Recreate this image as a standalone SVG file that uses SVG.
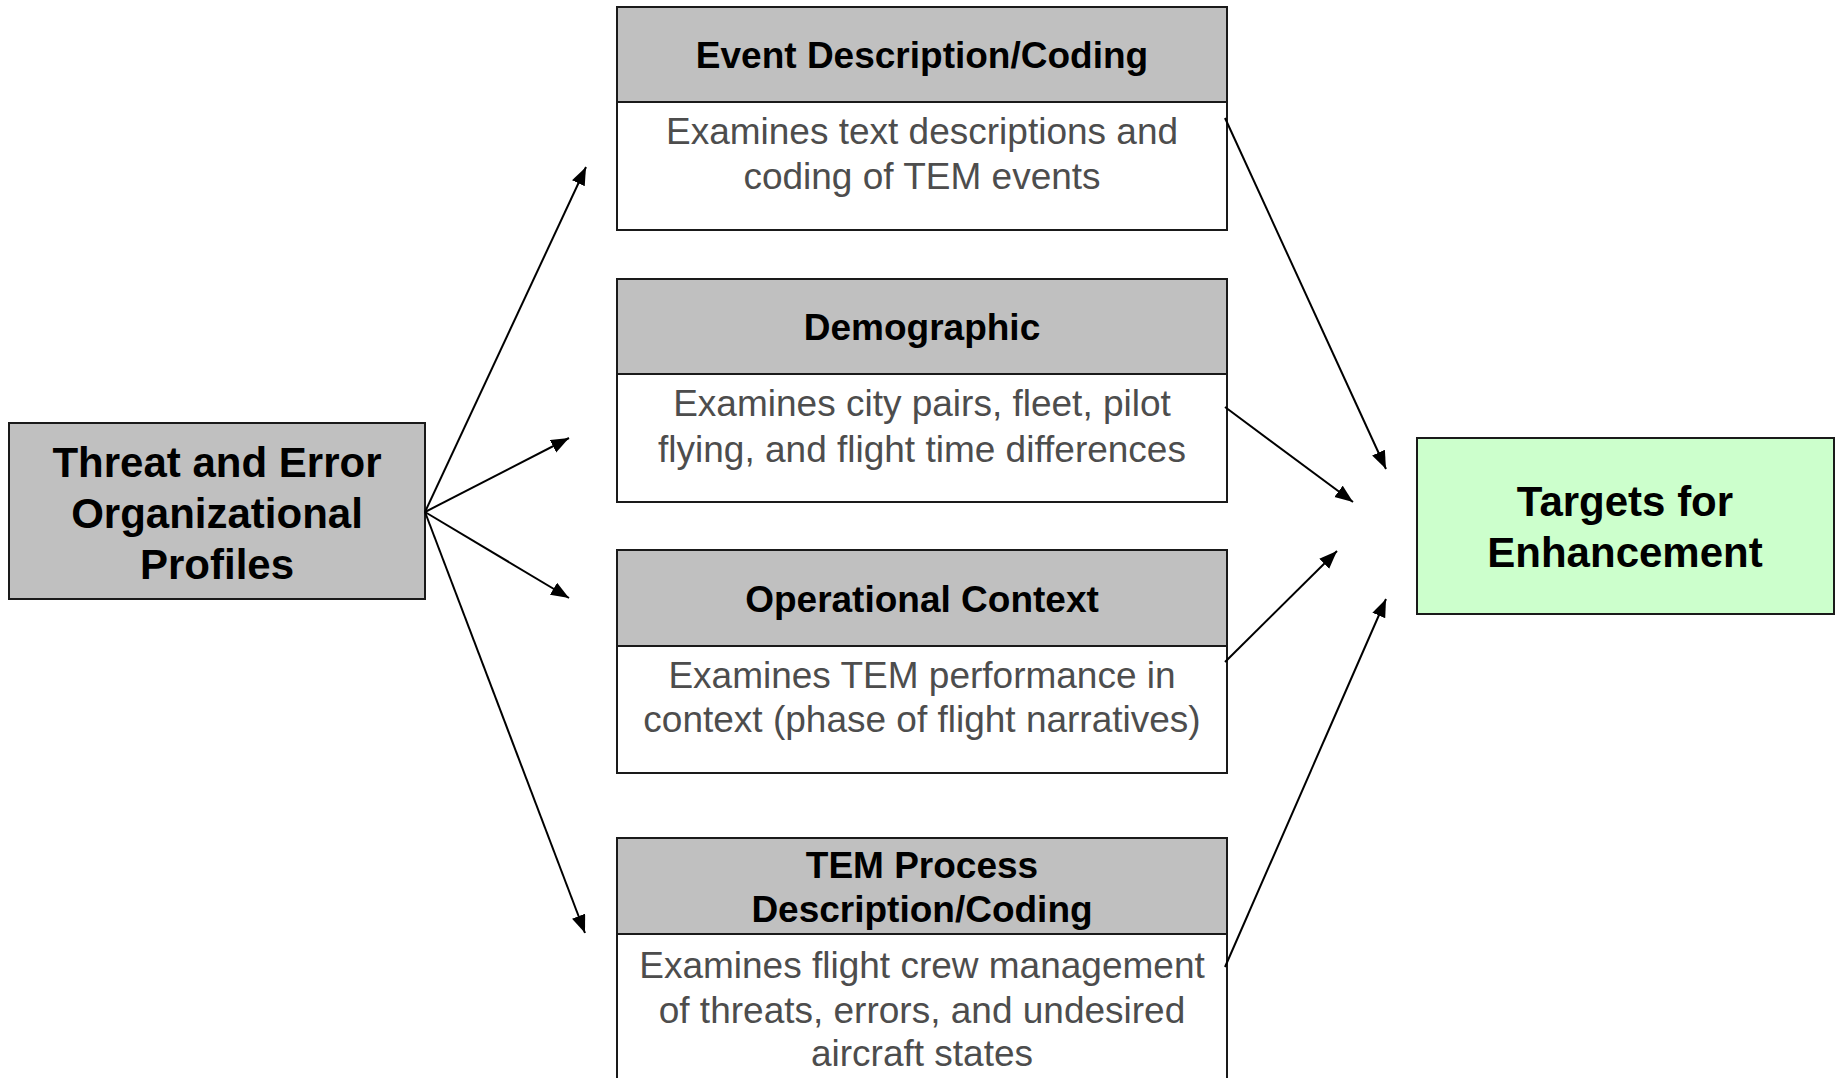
<svg xmlns="http://www.w3.org/2000/svg" width="1837" height="1078" viewBox="0 0 1837 1078">
  <defs>
    <style>
      .box { stroke: #1a1a1a; stroke-width: 2; }
      .grey { fill: #c0c0c0; }
      .white { fill: #ffffff; }
      .green { fill: #ccffcc; }
      .big { font-family: "Liberation Sans", Arial, sans-serif; font-weight: bold; font-size: 42px; fill: #000; text-anchor: middle; }
      .title { font-family: "Liberation Sans", Arial, sans-serif; font-weight: bold; font-size: 37px; fill: #000; text-anchor: middle; }
      .body { font-family: "Liberation Sans", Arial, sans-serif; font-size: 37px; fill: #4d4d4d; text-anchor: middle; }
      .link { stroke: #000; stroke-width: 2; fill: none; marker-end: url(#arrow); }
    </style>
    <marker id="arrow" markerUnits="userSpaceOnUse" markerWidth="20" markerHeight="16" refX="18" refY="7" orient="auto">
      <path d="M0,0 L18,7 L0,14 Z" fill="#000"/>
    </marker>
  </defs>

  <rect width="1837" height="1078" fill="#ffffff"/>

  <!-- source node -->
  <g id="profiles">
    <rect class="box grey" x="9" y="423" width="416" height="176"/>
    <text class="big" x="217" y="477">Threat and Error</text>
    <text class="big" x="217" y="528">Organizational</text>
    <text class="big" x="217" y="579">Profiles</text>
  </g>

  <!-- analysis nodes -->
  <g id="event-coding">
    <rect class="box white" x="617" y="7" width="610" height="223"/>
    <rect class="box grey" x="617" y="7" width="610" height="95"/>
    <text class="title" x="922" y="68">Event Description/Coding</text>
    <text class="body" x="922" y="144">Examines text descriptions and</text>
    <text class="body" x="922" y="189">coding of TEM events</text>
  </g>

  <g id="demographic">
    <rect class="box white" x="617" y="279" width="610" height="223"/>
    <rect class="box grey" x="617" y="279" width="610" height="95"/>
    <text class="title" x="922" y="340">Demographic</text>
    <text class="body" x="922" y="416">Examines city pairs, fleet, pilot</text>
    <text class="body" x="922" y="462">flying, and flight time differences</text>
  </g>

  <g id="operational-context">
    <rect class="box white" x="617" y="550" width="610" height="223"/>
    <rect class="box grey" x="617" y="550" width="610" height="96"/>
    <text class="title" x="922" y="612">Operational Context</text>
    <text class="body" x="922" y="688">Examines TEM performance in</text>
    <text class="body" x="922" y="732">context (phase of flight narratives)</text>
  </g>

  <g id="tem-process">
    <rect class="box white" x="617" y="838" width="610" height="260"/>
    <rect class="box grey" x="617" y="838" width="610" height="96"/>
    <text class="title" x="922" y="878">TEM Process</text>
    <text class="title" x="922" y="922">Description/Coding</text>
    <text class="body" x="922" y="978">Examines flight crew management</text>
    <text class="body" x="922" y="1023">of threats, errors, and undesired</text>
    <text class="body" x="922" y="1066">aircraft states</text>
  </g>

  <!-- result node -->
  <g id="targets">
    <rect class="box green" x="1417" y="438" width="417" height="176"/>
    <text class="big" x="1625" y="516">Targets for</text>
    <text class="big" x="1625" y="567">Enhancement</text>
  </g>

  <!-- connectors -->
  <g id="connectors">
    <line class="link" x1="425" y1="512" x2="586" y2="167"/>
    <line class="link" x1="425" y1="512" x2="569" y2="438"/>
    <line class="link" x1="425" y1="512" x2="569" y2="598"/>
    <line class="link" x1="425" y1="512" x2="585" y2="933"/>
    <line class="link" x1="1225" y1="118" x2="1386" y2="469"/>
    <line class="link" x1="1225" y1="407" x2="1353" y2="502"/>
    <line class="link" x1="1225" y1="662" x2="1337" y2="551"/>
    <line class="link" x1="1225" y1="967" x2="1386" y2="599"/>
  </g>
</svg>
